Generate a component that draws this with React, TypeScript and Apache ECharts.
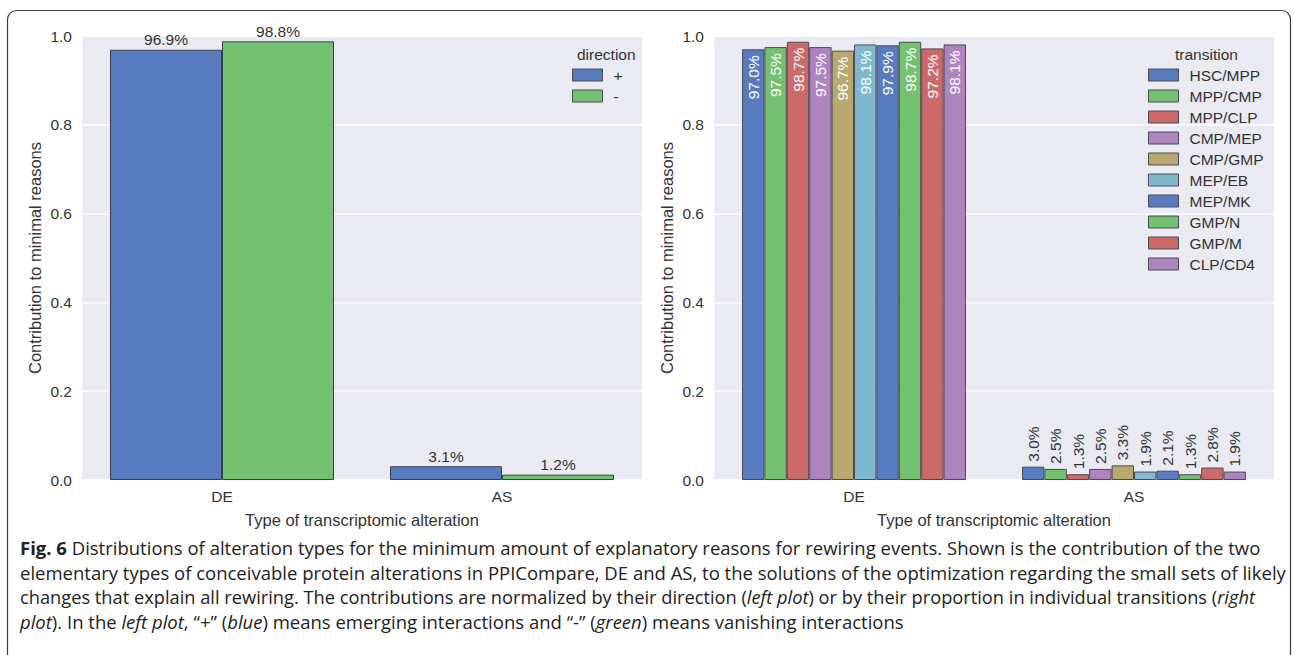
import React, { useEffect, useRef } from "react";
import * as echarts from "echarts";

// Categories and values
const categories = ["DE", "AS"];
const directions = ["+", "-"];
const plusValues = [0.969, 0.031];
const minusValues = [0.988, 0.012];

const transitions = [
  "HSC/MPP", "MPP/CMP", "MPP/CLP", "CMP/MEP", "CMP/GMP",
  "MEP/EB", "MEP/MK", "GMP/N", "GMP/M", "CLP/CD4",
];
const deValues = [0.970, 0.975, 0.987, 0.975, 0.967, 0.981, 0.979, 0.987, 0.972, 0.981];
const asValues = [0.030, 0.025, 0.013, 0.025, 0.033, 0.019, 0.021, 0.013, 0.028, 0.019];

const yTicks = [0, 0.2, 0.4, 0.6, 0.8, 1.0];

// seaborn "muted" palette, desaturated as in barplot
const palette = ["#587BC0", "#73C071", "#CC6A6A", "#AE84BE", "#B9A870", "#80B8CF"];
const transitionColors = [0, 1, 2, 3, 4, 5, 0, 1, 2, 3].map((i) => palette[i]);

const FONT = "'Liberation Sans', Arial, sans-serif";
const CAPTION_FONT = "'Open Sans', 'Noto Sans', sans-serif";
const TEXT = "#333333";
const SMALL = 15.5;
const TITLE = 16.5;
const CAP = 18.5;

const pct = (v: number) => (v * 100).toFixed(1) + "%";

export default function App() {
  const ref = useRef<HTMLDivElement>(null);

  useEffect(() => {
    if (!ref.current) return;
    const chart = echarts.init(ref.current, undefined, { renderer: "svg" });

    const axisCommon = (gridIndex: number) => ({
      x: {
        type: "category" as const,
        gridIndex,
        data: categories,
        axisLine: { show: false },
        axisTick: { show: false },
        axisLabel: { color: TEXT, fontSize: SMALL, fontFamily: FONT, margin: 8 },
        name: "Type of transcriptomic alteration",
        nameLocation: "middle" as const,
        nameGap: 31,
        nameTextStyle: { color: TEXT, fontSize: TITLE, fontFamily: FONT },
      },
      y: {
        type: "value" as const,
        gridIndex,
        min: 0,
        max: 1,
        interval: 0.2,
        axisLine: { show: false },
        axisTick: { show: false },
        splitLine: { lineStyle: { color: "#ffffff", width: 1.5 } },
        axisLabel: {
          color: TEXT,
          fontSize: SMALL,
          fontFamily: FONT,
          margin: 10,
          formatter: (v: number) => (yTicks.includes(Math.round(v * 10) / 10) ? v.toFixed(1) : ""),
        },
        name: "Contribution to minimal reasons",
        nameLocation: "middle" as const,
        nameGap: 39,
        nameTextStyle: { color: TEXT, fontSize: TITLE, fontFamily: FONT },
      },
    });

    const a0 = axisCommon(0);
    const a1 = axisCommon(1);

    const directionSeries = [plusValues, minusValues].map((vals, i) => ({
      type: "bar" as const,
      name: directions[i],
      xAxisIndex: 0,
      yAxisIndex: 0,
      data: vals,
      barGap: "0%",
      barCategoryGap: "20%",
      itemStyle: { color: palette[i], borderColor: "#3d3d4a", borderWidth: 1 },
      label: {
        show: true,
        position: "top" as const,
        distance: 2,
        color: TEXT,
        fontSize: SMALL,
        fontFamily: FONT,
        formatter: (p: any) => pct(p.value),
      },
    }));

    const transitionSeries = transitions.map((name, i) => ({
      type: "bar" as const,
      name,
      xAxisIndex: 1,
      yAxisIndex: 1,
      barGap: "0%",
      barCategoryGap: "20%",
      itemStyle: { color: transitionColors[i], borderColor: "#4a4a55", borderWidth: 1 },
      data: [
        {
          value: deValues[i],
          label: {
            show: true,
            position: "insideTop" as const,
            rotate: 90,
            align: "right" as const,
            verticalAlign: "middle" as const,
            distance: 6,
            color: "#ffffff",
            fontSize: SMALL,
            fontFamily: FONT,
            formatter: (p: any) => pct(p.value),
          },
        },
        {
          value: asValues[i],
          label: {
            show: true,
            position: "top" as const,
            rotate: 90,
            align: "left" as const,
            verticalAlign: "middle" as const,
            distance: 5,
            color: TEXT,
            fontSize: SMALL,
            fontFamily: FONT,
            formatter: (p: any) => pct(p.value),
          },
        },
      ],
    }));

    const legendCommon = {
      orient: "vertical" as const,
      itemWidth: 30,
      itemHeight: 12,
      itemGap: 5,
      icon: "rect",
      textStyle: { color: TEXT, fontSize: SMALL, fontFamily: FONT, padding: [0, 0, 0, 6] },
      itemStyle: { borderColor: "#4a4a55", borderWidth: 1 },
    };

    const captionLines = [
      "{b|Fig. 6} Distributions of alteration types for the minimum amount of explanatory reasons for rewiring events. Shown is the contribution of the two",
      "elementary types of conceivable protein alterations in PPICompare, DE and AS, to the solutions of the optimization regarding the small sets of likely",
      "changes that explain all rewiring. The contributions are normalized by their direction ({i|left plot}) or by their proportion in individual transitions ({i|right}",
      "{i|plot}). In the {i|left plot}, \u201c+\u201d ({i|blue}) means emerging interactions and \u201c-\u201d ({i|green}) means vanishing interactions",
    ];

    chart.setOption({
      animation: false,
      backgroundColor: "#ffffff",
      grid: [
        { left: 82, right: 652, top: 36, bottom: 175, show: true, backgroundColor: "#EAEAF2", borderWidth: 0 },
        { left: 714, right: 20, top: 36, bottom: 175, show: true, backgroundColor: "#EAEAF2", borderWidth: 0 },
      ],
      xAxis: [a0.x, a1.x],
      yAxis: [a0.y, a1.y],
      legend: [
        { ...legendCommon, data: directions, left: 567, top: 62 },
        { ...legendCommon, data: transitions, left: 1143, top: 62 },
      ],
      series: [...directionSeries, ...transitionSeries],
      graphic: [
        {
          type: "rect",
          shape: { x: 7.5, y: 10.5, width: 1283, height: 700, r: 9 },
          style: { fill: "none", stroke: "#3a3a3a", lineWidth: 1.2 },
          silent: true,
        },
        {
          type: "text",
          left: 577,
          top: 46,
          style: { text: "direction", fill: TEXT, fontSize: SMALL, fontFamily: FONT },
        },
        {
          type: "text",
          left: 1175,
          top: 46,
          style: { text: "transition", fill: TEXT, fontSize: SMALL, fontFamily: FONT },
        },
        ...captionLines.map((line, i) => ({
          type: "text",
          left: 20,
          top: 538 + i * 24.7,
          style: {
            text: line,
            fill: "#222222",
            fontSize: i === 2 ? 18.25 : CAP,
            fontFamily: CAPTION_FONT,
            rich: {
              b: { fontWeight: "bold", fontSize: CAP, fontFamily: CAPTION_FONT, fill: "#222222" },
              i: { fontStyle: "italic", fontSize: i === 2 ? 18.25 : CAP, fontFamily: CAPTION_FONT, fill: "#222222" },
            },
          },
        })),
      ],
    });

    return () => chart.dispose();
  }, []);

  return (
    <div
      ref={ref}
      style={{ position: "fixed", left: 0, top: 0, width: 1294, height: 655, background: "#ffffff" }}
    />
  );
}
